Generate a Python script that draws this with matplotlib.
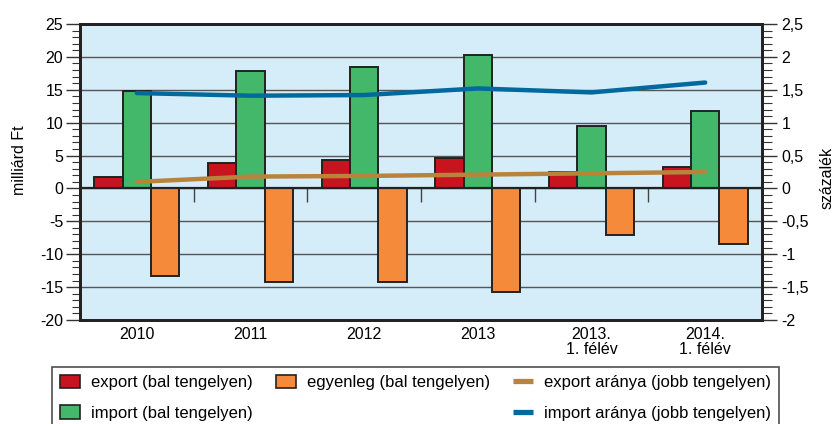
import numpy as np
import matplotlib
matplotlib.use("Agg")
import matplotlib.pyplot as plt
from matplotlib.patches import Patch
from matplotlib.lines import Line2D
from matplotlib.ticker import MultipleLocator, FuncFormatter

plt.rcParams['font.family'] = ['Liberation Sans', 'DejaVu Sans']
plt.rcParams['axes.unicode_minus'] = False

categories = ['2010', '2011', '2012', '2013', '2013.\n1. félév', '2014.\n1. félév']
export = [1.8, 3.9, 4.3, 4.7, 2.5, 3.25]
imports = [14.8, 17.8, 18.5, 20.3, 9.5, 11.8]
egyenleg = [-13.25, -14.2, -14.2, -15.7, -7.05, -8.4]
export_arany = [0.10, 0.18, 0.19, 0.21, 0.23, 0.25]
import_arany = [1.45, 1.41, 1.42, 1.52, 1.46, 1.61]

c_red = '#c8141e'
c_green = '#44b86a'
c_orange = '#f58a3a'
c_tan = '#b8843c'
c_blue = '#006a9e'
c_bg = '#d5ecf9'

fig = plt.figure(figsize=(8.35, 4.24), dpi=100)
ax = fig.add_axes([0.0958, 0.2453, 0.8168, 0.6981])
ax.set_facecolor(c_bg)

x = np.arange(len(categories))
w = 0.25
ax.bar(x - w, export, w, color=c_red, edgecolor='#222222', linewidth=1.4, zorder=3)
ax.bar(x, imports, w, color=c_green, edgecolor='#222222', linewidth=1.4, zorder=3)
ax.bar(x + w, egyenleg, w, color=c_orange, edgecolor='#222222', linewidth=1.4, zorder=3)

ax.set_xlim(-0.5, len(categories) - 0.5)
ax.set_ylim(-20, 25)
ax.yaxis.set_major_locator(MultipleLocator(5))
ax.yaxis.set_minor_locator(MultipleLocator(1))
ax.grid(axis='y', color='#555555', linewidth=1, zorder=1)
ax.axhline(0, color='#222222', linewidth=1.6, zorder=4)
# small separators between the categories, hanging under the zero line
ax.vlines(x[:-1] + 0.5, -2, 0, color='#444444', linewidth=1, zorder=2)

ax.set_xticks(x)
ax.set_xticklabels(categories, fontsize=11.5, linespacing=1.0)
ax.tick_params(axis='x', length=0, pad=5)
ax.tick_params(axis='y', which='major', length=10, width=1, pad=2, labelsize=11.5, color='#333333')
ax.tick_params(axis='y', which='minor', length=6, width=0.8, color='#333333')
ax.set_ylabel('milliárd Ft', fontsize=11.5)
ax.yaxis.set_label_coords(-0.078, 0.54)

for s in ax.spines.values():
    s.set_linewidth(2)
    s.set_color('#222222')

ax2 = ax.twinx()
ax2.set_ylim(-2, 2.5)
ax2.plot(x, export_arany, color=c_tan, linewidth=3.2, solid_capstyle='round', zorder=5)
ax2.plot(x, import_arany, color=c_blue, linewidth=3.2, solid_capstyle='round', zorder=5)
ax2.yaxis.set_major_locator(MultipleLocator(0.5))
ax2.yaxis.set_minor_locator(MultipleLocator(0.1))
ax2.yaxis.set_major_formatter(FuncFormatter(lambda v, p: ('%g' % v).replace('.', ',')))
ax2.tick_params(axis='y', which='major', length=11, width=1, pad=3, labelsize=11.5, color='#333333')
ax2.tick_params(axis='y', which='minor', length=7, width=0.8, color='#333333')
ax2.set_ylabel('százalék', fontsize=11.5)
ax2.yaxis.set_label_coords(1.085, 0.48)
for s in ax2.spines.values():
    s.set_linewidth(2)
    s.set_color('#222222')

blank = Patch(facecolor='none', edgecolor='none')
handles = [
    Patch(facecolor=c_red, edgecolor='#222222', linewidth=1.2),
    Patch(facecolor=c_green, edgecolor='#222222', linewidth=1.2),
    Patch(facecolor=c_orange, edgecolor='#222222', linewidth=1.2),
    blank,
    Line2D([], [], color=c_tan, linewidth=3.8, solid_capstyle='butt'),
    Line2D([], [], color=c_blue, linewidth=3.8, solid_capstyle='butt'),
]
labels = ['export (bal tengelyen)', 'import (bal tengelyen)',
          'egyenleg (bal tengelyen)', '',
          'export aránya (jobb tengelyen)', 'import aránya (jobb tengelyen)']
leg = fig.legend(handles, labels, ncol=3, loc='upper left',
                 bbox_to_anchor=(0.0623, 0.1344), fontsize=12, frameon=True,
                 fancybox=False, edgecolor='#222222', handlelength=1.2,
                 handleheight=0.9, handletextpad=0.66, columnspacing=1.4,
                 labelspacing=0.9, borderpad=0.45, borderaxespad=0)
leg.get_frame().set_linewidth(1.2)

fig.savefig('out.png', dpi=100)
